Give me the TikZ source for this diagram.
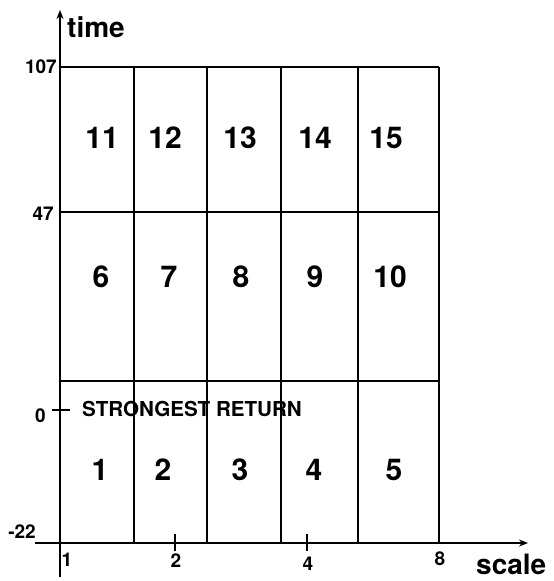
\documentclass[tikz,border=0pt]{standalone}
\usepackage{fontspec}
\setmainfont{TeX Gyre Heros}
\usetikzlibrary{arrows.meta}
\tikzset{
    cellnum/.style={font=\fontsize{30}{30}\selectfont\bfseries,inner sep=0pt},
    ticklab/.style={font=\fontsize{19}{19}\selectfont\bfseries,inner sep=0pt},
    axislab/.style={font=\fontsize{28}{28}\selectfont\bfseries,inner sep=0pt},
    gridline/.style={line width=2.3pt},
    axisline/.style={line width=2.8pt,-{Stealth[length=9pt,width=7pt]}},
    tickmark/.style={line width=2.2pt}
}

\begin{document}
\begin{tikzpicture}[x=1pt,y=-1pt]
\useasboundingbox (0,0) rectangle (554,581);

% Axes
\coordinate (ybot) at (60,577);
\coordinate (ytop) at (60,10);
\coordinate (xleft) at (35,543);
\coordinate (xright) at (528,543);
\draw[axisline] (ybot) -- (ytop);
\draw[axisline] (xleft) -- (xright);

% Grid rows
\draw[gridline] (60,67) -- (439,67);
\draw[gridline] (60,212) -- (439,212);
\draw[gridline] (60,381) -- (439,381);

% Grid columns
\draw[gridline] (134,67) -- (134,543);
\draw[gridline] (207,67) -- (207,543);
\draw[gridline] (281,67) -- (281,543);
\draw[gridline] (358,67) -- (358,543);
\draw[gridline] (439,67) -- (439,543);

% Ticks
\draw[tickmark] (52,410) -- (70,410);
\draw[tickmark] (175,534) -- (175,551);
\draw[tickmark] (307,534) -- (307,551);

% Axis labels
\node[axislab,anchor=base west] at (67,37) (ylab) {time};
\node[axislab,anchor=base west] at (476,574) (xlab) {scale};

% Time values
\node[ticklab,anchor=east] at (57,67) (t107) {107};
\node[ticklab,anchor=east] at (54,214) (t47) {47};
\node[ticklab,anchor=east] at (46,416) (t0) {0};
\node[ticklab,anchor=east] at (36,532) (tm22) {-22};

% Scale values
\node[ticklab] at (67,560) (s1) {1};
\node[ticklab] at (176,561) (s2) {2};
\node[ticklab] at (308,564) (s4) {4};
\node[ticklab] at (440,559) (s8) {8};

% Marker text
\node[font=\fontsize{20.6}{20.6}\selectfont\bfseries,inner sep=0pt,anchor=base west] at (82,416) (strong) {STRONGEST RETURN};

% Cells, top row
\node[cellnum] at (102,138) (c11) {11};
\node[cellnum] at (165,138) (c12) {12};
\node[cellnum] at (240,138) (c13) {13};
\node[cellnum] at (315,138) (c14) {14};
\node[cellnum] at (386,138) (c15) {15};

% Cells, middle row
\node[cellnum] at (101,277) (c6) {6};
\node[cellnum] at (169,277) (c7) {7};
\node[cellnum] at (241,277) (c8) {8};
\node[cellnum] at (315,277) (c9) {9};
\node[cellnum] at (390,277) (c10) {10};

% Cells, bottom row
\node[cellnum] at (100,470) (c1) {1};
\node[cellnum] at (163,470) (c2) {2};
\node[cellnum] at (240,470) (c3) {3};
\node[cellnum] at (314,470) (c4) {4};
\node[cellnum] at (394,470) (c5) {5};

\end{tikzpicture}
\end{document}
